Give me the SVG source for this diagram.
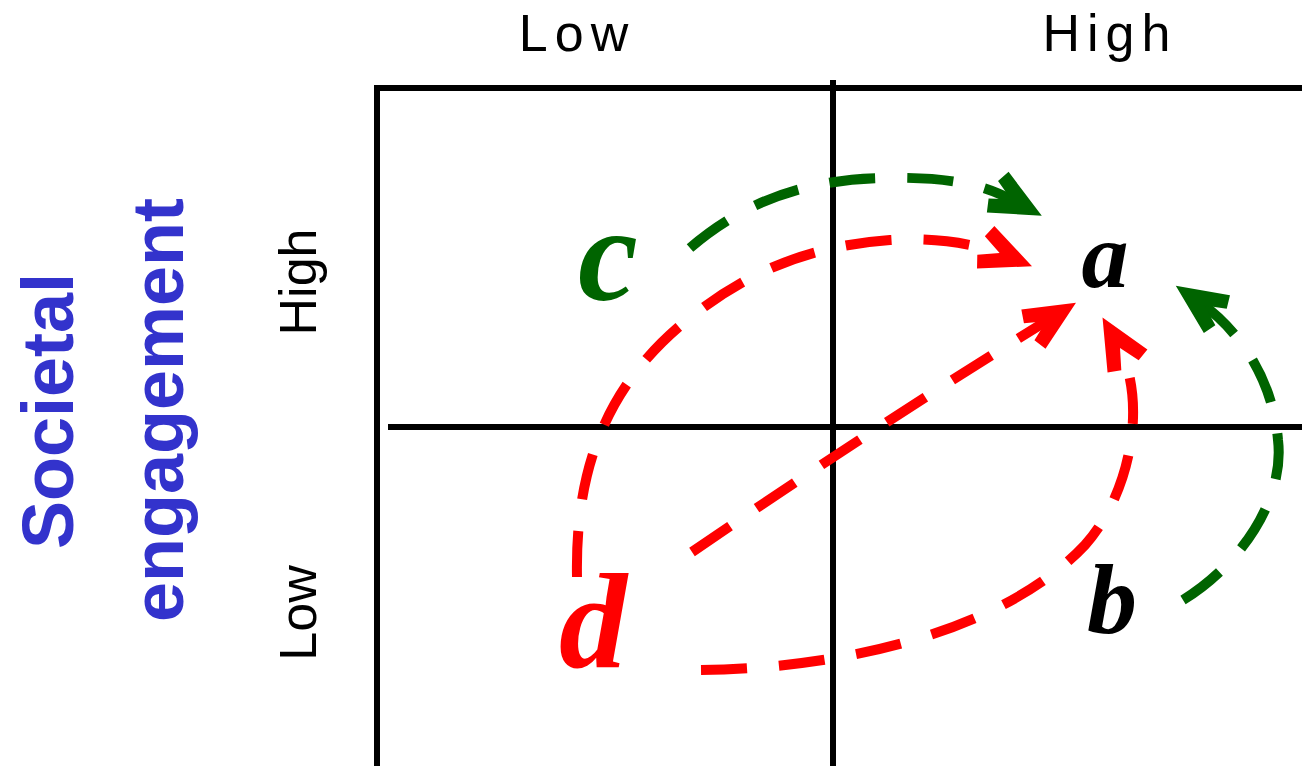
<svg xmlns="http://www.w3.org/2000/svg" width="1302" height="766" viewBox="0 0 1302 766">
<style>
.frame{stroke:#000;stroke-width:6;fill:none}
.axis{font-family:"Liberation Sans",Arial,sans-serif;font-size:52px;fill:#000}
.top{letter-spacing:7px}
.title{font-family:"Liberation Sans",Arial,sans-serif;font-size:72px;font-weight:bold;fill:#3333CC}
.node{font-family:"Liberation Serif","Times New Roman",serif;font-weight:bold;font-style:italic}
.red{stroke:#FF0000;stroke-width:10;fill:none;stroke-dasharray:46 32}
.green{stroke:#006400;stroke-width:10;fill:none;stroke-dasharray:46 32}
</style>
<defs>
<marker id="ahR" viewBox="-60 -30 70 60" markerWidth="70" markerHeight="60" refX="-27" refY="0" markerUnits="userSpaceOnUse" orient="auto">
<path d="M0,0 L-50,-23 L-55,-10 L-35,0 L-55,10 L-50,23 Z" fill="#FF0000"/>
</marker>
<marker id="ahG" viewBox="-60 -30 70 60" markerWidth="70" markerHeight="60" refX="-27" refY="0" markerUnits="userSpaceOnUse" orient="auto">
<path d="M0,0 L-50,-23 L-55,-10 L-35,0 L-55,10 L-50,23 Z" fill="#006400"/>
</marker>
</defs>
<rect width="1302" height="766" fill="#fff"/>
<g id="frame">
<line class="frame" x1="377" y1="85" x2="377" y2="766"/>
<line class="frame" x1="374" y1="88" x2="1302" y2="88"/>
<line class="frame" x1="833" y1="80" x2="833" y2="766"/>
<line class="frame" x1="388" y1="427" x2="1302" y2="427"/>
</g>
<g id="labels">
<text class="axis top" x="577" y="51" text-anchor="middle">Low</text>
<text class="axis top" x="1110" y="51" text-anchor="middle">High</text>
<text class="axis" transform="translate(316,282) rotate(-90)" text-anchor="middle">High</text>
<text class="axis" transform="translate(316,613) rotate(-90)" text-anchor="middle">Low</text>
<text class="title" transform="translate(73,411) rotate(-90)" text-anchor="middle">Societal</text>
<text class="title" transform="translate(183,410) rotate(-90)" text-anchor="middle">engagement</text>
</g>
<g id="connectors">
<path id="c-a" class="green" d="M690,248 C740,205 800,180 880,178 S990,188 1018,203" marker-end="url(#ahG)"/>
<path id="b-a-green" class="green" d="M1183,600 C1240,565 1285,500 1278,440 C1273,380 1240,330 1198,301" marker-end="url(#ahG)"/>
<path id="d-a-arc" class="red" d="M577,577 C575,470 605,380 700,310 C760,265 820,245 890,240 C940,237 980,245 1007,256" marker-end="url(#ahR)"/>
<path id="d-a-direct" class="red" d="M692,552 Q870,430 1053,317" marker-end="url(#ahR)"/>
<path id="d-b-a" class="red" d="M701,670 C860,668 1010,625 1085,545 C1130,495 1150,400 1116,341" marker-end="url(#ahR)"/>
</g>
<g id="node-a"><text class="node" x="1105" y="287" font-size="94" fill="#000" text-anchor="middle">a</text></g>
<g id="node-b"><text class="node" x="1112" y="633" font-size="100" fill="#000" text-anchor="middle">b</text></g>
<g id="node-c"><text class="node" x="608" y="300" font-size="135" fill="#006400" text-anchor="middle">c</text></g>
<g id="node-d"><text class="node" x="593" y="667" font-size="136" fill="#FF0000" text-anchor="middle">d</text></g>
</svg>
